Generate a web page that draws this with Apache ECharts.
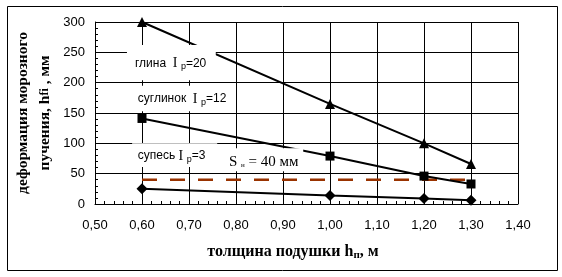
<!DOCTYPE html>
<html><head><meta charset="utf-8">
<script src="https://cdn.jsdelivr.net/npm/echarts@6/dist/echarts.min.js"></script>
<style>html,body{margin:0;padding:0;background:#fff}#c{width:562px;height:277px}</style>
</head><body><div id="c"></div>
<script>
// ---- data ----
const hX = [0.6, 1.0, 1.2, 1.3];
const glina = [300, 165, 100, 66];
const suglinok = [141, 79, 46, 33];
const supes = [25, 14, 9, 6];
const snX = [0.6, 1.3];
const snY = [40, 40];
const xMin = 0.5, xMax = 1.4, xStep = 0.1;
const yMin = 0, yMax = 300, yStep = 50;

const pairs = (xs, ys) => xs.map((x, i) => [x, ys[i]]);
const chart = echarts.init(document.getElementById('c'), null, {renderer: 'canvas'});
const sans = 'Liberation Sans, Arial, sans-serif';
const serif = 'Liberation Serif, Times New Roman, serif';

const option = {
  animation: false,
  backgroundColor: '#fff',
  grid: {left: 95, right: 44, top: 22, bottom: 73},
  xAxis: {
    type: 'value', min: xMin, max: xMax, interval: xStep,
    axisLine: {lineStyle: {color: '#000', width: 1}},
    axisTick: {show: true, inside: true, length: 3, lineStyle: {color: '#000'}},
    minorTick: {show: true, splitNumber: 5, length: 3, lineStyle: {color: '#000'}},
    splitLine: {show: true, lineStyle: {color: '#000', width: 1}},
    axisLabel: {margin: 15, color: '#000', fontFamily: sans, fontSize: 13,
      formatter: v => v.toFixed(2).replace('.', ',')}
  },
  yAxis: {
    type: 'value', min: yMin, max: yMax, interval: yStep,
    axisLine: {show: true, lineStyle: {color: '#000', width: 1}},
    axisTick: {show: true, inside: true, length: 3, lineStyle: {color: '#000'}},
    minorTick: {show: true, splitNumber: 5, length: 3, lineStyle: {color: '#000'}},
    splitLine: {show: true, lineStyle: {color: '#000', width: 1}},
    axisLabel: {margin: 10, color: '#000', fontFamily: sans, fontSize: 13}
  },
  series: [
    {name: 'глина', type: 'line', data: pairs(hX, glina), symbol: 'triangle', symbolSize: 10,
      lineStyle: {color: '#000', width: 2}, itemStyle: {color: '#000'}, z: 3},
    {name: 'суглинок', type: 'line', data: pairs(hX, suglinok), symbol: 'rect', symbolSize: 9,
      lineStyle: {color: '#000', width: 2}, itemStyle: {color: '#000'}, z: 3},
    {name: 'супесь', type: 'line', data: pairs(hX, supes), symbol: 'diamond', symbolSize: 11,
      lineStyle: {color: '#000', width: 2}, itemStyle: {color: '#000'}, z: 3},
    {name: 'Sн', type: 'line', data: pairs(snX, snY), symbol: 'none',
      lineStyle: {color: '#993300', width: 2.5, type: [15, 13]}, z: 2}
  ]
};
chart.setOption(option);

// annotation boxes (data-space corners) with texts
const rich = {
  t: {fontFamily: sans, fontSize: 12, fill: '#000'},
  i: {fontFamily: serif, fontSize: 14, fill: '#000'},
  p: {fontFamily: sans, fontSize: 9, fill: '#000', padding: [6, 0, 0, 0]},
  s: {fontFamily: serif, fontSize: 15, fill: '#000'},
  n: {fontFamily: serif, fontSize: 7, fill: '#000', padding: [6, 0, 0, 0]}
};
const notes = [
  {box: [0.568, 262, 0.757, 204], at: [0.585, 232], text: '{t|глина  }{i|I }{p|p}{t|=20}'},
  {box: [0.568, 195, 0.786, 153], at: [0.591, 173], text: '{t|суглинок  }{i|I }{p|p}{t|=12}'},
  {box: [0.579, 100, 0.760, 61], at: [0.591, 79], text: '{t|супесь }{i|I }{p|p}{t|=3}'},
  {box: [0.777, 92, 0.943, 54], at: [0.785, 69], text: '{s|S }{n|н}{s| = 40 мм}'}
];
const g = [];
notes.forEach(n => {
  const a = chart.convertToPixel({gridIndex: 0}, [n.box[0], n.box[1]]);
  const b = chart.convertToPixel({gridIndex: 0}, [n.box[2], n.box[3]]);
  const t = chart.convertToPixel({gridIndex: 0}, n.at);
  g.push({type: 'rect', z: 50, shape: {x: a[0], y: a[1], width: b[0] - a[0], height: b[1] - a[1]},
    style: {fill: '#fff', stroke: null}});
  g.push({type: 'text', z: 51, x: t[0], y: t[1],
    style: {text: n.text, rich: rich, textAlign: 'left', textVerticalAlign: 'middle'}});
});
// outer frame
g.push({type: 'rect', z: 60, shape: {x: 7.5, y: 6.5, width: 550, height: 264},
  style: {fill: null, stroke: '#000', lineWidth: 1}});
// axis titles
g.push({type: 'text', z: 60, x: 293, y: 252, style: {
  text: '{b|толщина подушки h}{s|п}{b|, м}', textAlign: 'center', textVerticalAlign: 'middle',
  rich: {b: {fontFamily: serif, fontSize: 16, fontWeight: 'bold', fill: '#000'},
         s: {fontFamily: serif, fontSize: 11, fontWeight: 'bold', fill: '#000', padding: [6, 0, 0, 0]}}}});
g.push({type: 'text', z: 60, x: 34, y: 113, rotation: Math.PI / 2, style: {
  text: '{b|деформация морозного}\n{b|пучения, h}{s|fi}{b| , мм}', textAlign: 'center', textVerticalAlign: 'middle',
  rich: {b: {fontFamily: serif, fontSize: 15.5, fontWeight: 'bold', fill: '#000', lineHeight: 22},
         s: {fontFamily: serif, fontSize: 12, fontWeight: 'bold', fill: '#000', lineHeight: 22}}}});
chart.setOption({graphic: g});
</script></body></html>
